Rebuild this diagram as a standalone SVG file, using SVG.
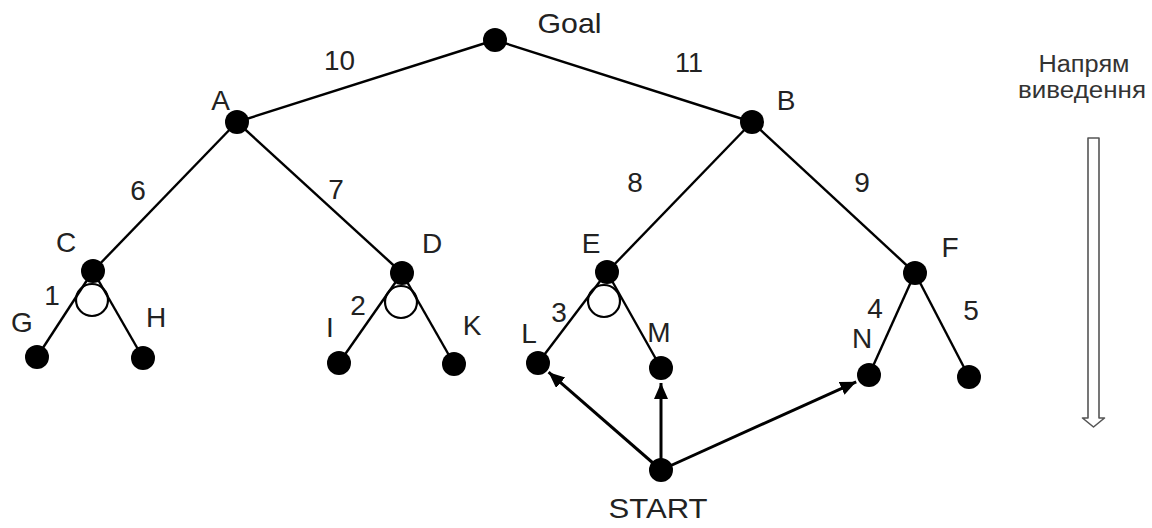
<svg xmlns="http://www.w3.org/2000/svg" width="1152" height="528" viewBox="0 0 1152 528">
  <style>
    .edge { stroke: #000; stroke-width: 2.4; fill: none; }
    .arrow { stroke: #000; stroke-width: 3; fill: none; marker-end: url(#head); }
    .and-arc { stroke: #000; stroke-width: 2.2; fill: #fff; }
    .dot { fill: #000; }
    .lbl { font-family: "Liberation Sans", Arial, sans-serif; font-size: 28px; fill: #222; text-anchor: middle; }
    .side { font-family: "Liberation Sans", Arial, sans-serif; font-size: 23px; fill: #333; text-anchor: middle; }
    .dir { fill: #fff; stroke: #555; stroke-width: 1.6; stroke-linejoin: round; }
  </style>
  <defs>
    <marker id="head" markerUnits="userSpaceOnUse" markerWidth="18" markerHeight="16" refX="16" refY="7" orient="auto">
      <path d="M0,0 L16,7 L0,14 Z" fill="#000"/>
    </marker>
  </defs>
  <rect width="1152" height="528" fill="#fff"/>

  <!-- tree edges -->
  <g id="connectors">
    <line class="edge" x1="495" y1="40" x2="237" y2="122"/>
    <line class="edge" x1="495" y1="40" x2="752" y2="122"/>
    <line class="edge" x1="237" y1="122" x2="93" y2="271"/>
    <line class="edge" x1="237" y1="122" x2="402" y2="273"/>
    <line class="edge" x1="752" y1="122" x2="607" y2="272"/>
    <line class="edge" x1="752" y1="122" x2="915" y2="273"/>
    <line class="edge" x1="915" y1="273" x2="869" y2="375"/>
    <line class="edge" x1="915" y1="273" x2="969" y2="377"/>
    <!-- AND arcs -->
    <circle class="and-arc" cx="92" cy="300" r="16"/>
    <circle class="and-arc" cx="401" cy="302" r="16"/>
    <circle class="and-arc" cx="604" cy="301" r="16"/>
    <!-- AND branches, drawn over the arcs -->
    <line class="edge" x1="93" y1="271" x2="37" y2="357"/>
    <line class="edge" x1="93" y1="271" x2="143" y2="358"/>
    <line class="edge" x1="402" y1="273" x2="339" y2="363"/>
    <line class="edge" x1="402" y1="273" x2="454" y2="364"/>
    <line class="edge" x1="607" y1="272" x2="538" y2="363"/>
    <line class="edge" x1="607" y1="272" x2="661" y2="368"/>
    <!-- search arrows from START -->
    <line class="arrow" x1="661" y1="470" x2="548.6" y2="372.2"/>
    <line class="arrow" x1="661" y1="470" x2="661" y2="383"/>
    <line class="arrow" x1="661" y1="470" x2="856.2" y2="381.8"/>
    <!-- edge weights -->
    <text class="lbl" x="339.5" y="70" textLength="31" lengthAdjust="spacingAndGlyphs">10</text>
    <text class="lbl" x="689" y="72" textLength="28" lengthAdjust="spacingAndGlyphs">11</text>
    <text class="lbl" x="138" y="200">6</text>
    <text class="lbl" x="336" y="199">7</text>
    <text class="lbl" x="635" y="192">8</text>
    <text class="lbl" x="862" y="192">9</text>
    <text class="lbl" x="52" y="305">1</text>
    <text class="lbl" x="358" y="315">2</text>
    <text class="lbl" x="559" y="322">3</text>
    <text class="lbl" x="875" y="318">4</text>
    <text class="lbl" x="971" y="320">5</text>
  </g>

  <!-- nodes -->
  <g id="node-goal"><circle class="dot" cx="495" cy="40" r="12"/><text class="lbl" x="569.5" y="33" textLength="64" lengthAdjust="spacingAndGlyphs">Goal</text></g>
  <g id="node-a"><circle class="dot" cx="237" cy="122" r="12"/><text class="lbl" x="220.5" y="110">A</text></g>
  <g id="node-b"><circle class="dot" cx="752" cy="122" r="12"/><text class="lbl" x="786" y="110">B</text></g>
  <g id="node-c"><circle class="dot" cx="93" cy="271" r="12"/><text class="lbl" x="66" y="252">C</text></g>
  <g id="node-d"><circle class="dot" cx="402" cy="273" r="12"/><text class="lbl" x="432" y="253">D</text></g>
  <g id="node-e"><circle class="dot" cx="607" cy="272" r="12"/><text class="lbl" x="591" y="253">E</text></g>
  <g id="node-f"><circle class="dot" cx="915" cy="273" r="12"/><text class="lbl" x="950" y="257">F</text></g>
  <g id="node-g"><circle class="dot" cx="37" cy="357" r="12"/><text class="lbl" x="22" y="332">G</text></g>
  <g id="node-h"><circle class="dot" cx="143" cy="358" r="12"/><text class="lbl" x="156" y="327">H</text></g>
  <g id="node-i"><circle class="dot" cx="339" cy="363" r="12"/><text class="lbl" x="330" y="337">I</text></g>
  <g id="node-k"><circle class="dot" cx="454" cy="364" r="12"/><text class="lbl" x="472" y="335">K</text></g>
  <g id="node-l"><circle class="dot" cx="538" cy="363" r="12"/><text class="lbl" x="529" y="343">L</text></g>
  <g id="node-m"><circle class="dot" cx="661" cy="368" r="12"/><text class="lbl" x="659" y="342">M</text></g>
  <g id="node-n"><circle class="dot" cx="869" cy="375" r="12"/><text class="lbl" x="862" y="348">N</text></g>
  <g id="node-f-right"><circle class="dot" cx="969" cy="377" r="12"/></g>
  <g id="node-start"><circle class="dot" cx="661" cy="470" r="12"/><text class="lbl" x="658" y="518" textLength="99" lengthAdjust="spacingAndGlyphs">START</text></g>

  <!-- inference direction legend -->
  <g id="direction">
    <text class="side" x="1084" y="72" textLength="91" lengthAdjust="spacingAndGlyphs">Напрям</text>
    <text class="side" x="1082" y="98" textLength="128" lengthAdjust="spacingAndGlyphs">виведення</text>
    <path class="dir" d="M1088,138 L1099,138 L1099,418 L1104.5,418 L1093.5,427 L1082.5,418 L1088,418 Z"/>
  </g>
</svg>
